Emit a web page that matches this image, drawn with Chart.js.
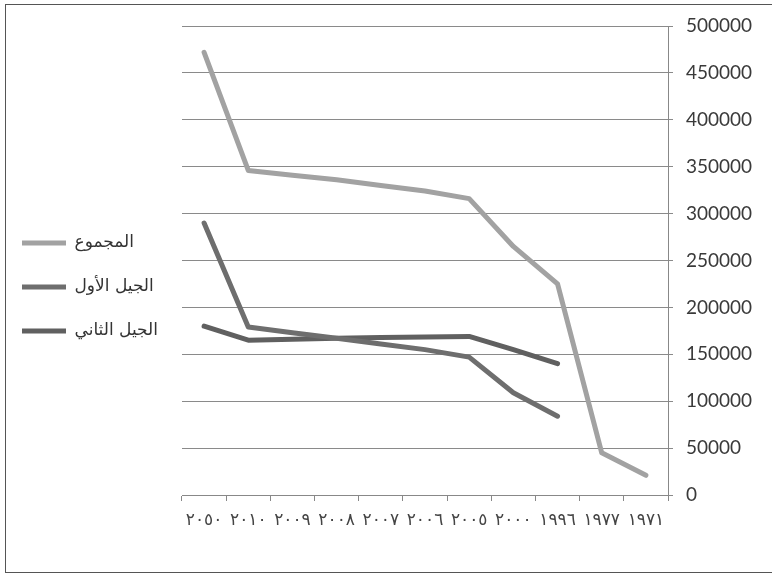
<!DOCTYPE html>
<html><head><meta charset="utf-8">
<script src="https://cdn.jsdelivr.net/npm/chart.js@4/dist/chart.umd.min.js"></script>
<style>
html,body{margin:0;padding:0;background:#fff;}
#wrap{position:relative;width:772px;height:574px;overflow:hidden;}
#frame{position:absolute;left:5px;top:4px;width:800px;height:567px;border:1.5px solid #555;pointer-events:none;}
canvas{position:absolute;left:0;top:0;}
</style></head><body>
<div id="wrap"><canvas id="c" width="772" height="574"></canvas><div id="frame"></div></div>
<script>
const categories = ['١٩٧١','١٩٧٧','١٩٩٦','٢٠٠٠','٢٠٠٥','٢٠٠٦','٢٠٠٧','٢٠٠٨','٢٠٠٩','٢٠١٠','٢٠٥٠'];
const seriesNames = ['المجموع','الجيل الأول','الجيل الثاني'];
const totalValues = [21000, 45000, 225000, 265000, 316000, 324000, 330000, 336000, 341000, 346000, 472000];
const firstGenValues = [null, null, 84000, 109000, 147000, 155000, 161000, 167000, 173000, 179000, 290000];
const secondGenValues = [null, null, 140000, 155000, 169000, 168500, 168000, 167000, 166000, 165000, 180000];
const yTicks = [0, 50000, 100000, 150000, 200000, 250000, 300000, 350000, 400000, 450000, 500000];

const colors = ['#a2a2a2', '#6e6e6e', '#606060'];
const seriesData = [totalValues, firstGenValues, secondGenValues];

const legendWidthPlugin = {
  id: 'legendWidth',
  afterInit(chart) {
    const lg = chart.legend;
    if (!lg) return;
    const orig = lg.fit.bind(lg);
    lg.fit = function () { orig(); this.width = 187; };
  }
};

new Chart(document.getElementById('c'), {
  type: 'line',
  data: {
    labels: categories,
    datasets: seriesNames.map((n, i) => ({
      label: n,
      data: seriesData[i],
      borderColor: colors[i],
      backgroundColor: colors[i],
      borderWidth: 5,
      borderCapStyle: 'round',
      borderJoinStyle: 'round',
      pointRadius: 0,
      tension: 0,
      spanGaps: false
    }))
  },
  options: {
    responsive: false,
    animation: false,
    devicePixelRatio: 1,
    layout: { padding: { top: 26, bottom: 26, left: -5, right: 0 } },
    plugins: {
      tooltip: { enabled: false },
      legend: {
        position: 'left',
        align: 'center',
        labels: {
          boxWidth: 44,
          boxHeight: 5,
          padding: 27,
          color: '#333',
          font: { family: 'DejaVu Sans', size: 17 },
          generateLabels(chart) {
            const items = Chart.defaults.plugins.legend.labels.generateLabels(chart);
            items.forEach(it => { it.lineWidth = 0; });
            return items;
          }
        }
      }
    },
    scales: {
      x: {
        reverse: true,
        offset: true,
        grid: { display: true, offset: true, drawOnChartArea: false, drawTicks: true, tickLength: 6, color: '#888' },
        border: { display: true, color: '#888' },
        ticks: {
          color: '#444',
          padding: 9,
          maxRotation: 0,
          autoSkip: false,
          font: { family: 'DejaVu Sans', size: 17 }
        },
        afterFit(scale) { scale.height = 53; }
      },
      y: {
        position: 'right',
        min: 0,
        max: 500000,
        afterBuildTicks(scale) { scale.ticks = yTicks.map(v => ({ value: v })); },
        grid: { color: '#8a8a8a', lineWidth: 1, tickLength: 5 },
        border: { display: true, color: '#888' },
        ticks: {
          color: '#3a3a3a',
          padding: 13,
          font: { family: 'Lato', size: 19 },
          callback: v => String(v)
        },
        afterFit(scale) { scale.width = 104; }
      }
    }
  },
  plugins: [legendWidthPlugin]
});
</script>
</body></html>
